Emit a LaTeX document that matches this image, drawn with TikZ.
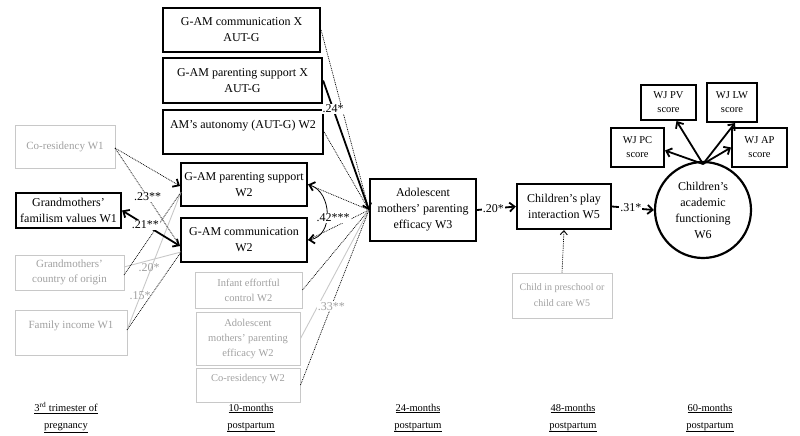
\documentclass[tikz,border=0pt]{standalone}
\usepackage{fontspec}
\setmainfont{Liberation Serif}
\usetikzlibrary{arrows.meta}
\definecolor{gline}{RGB}{200,200,200}
\definecolor{gtext}{RGB}{160,160,160}
\tikzset{
 bb/.style={draw=black, line width=2.2pt, align=center, inner sep=0pt, font=\fontsize{12}{16}\selectfont},
 gb/.style={draw=gline, line width=1pt, align=center, inner sep=0pt, text=gtext, font=\fontsize{11}{15}\selectfont},
 wj/.style={draw=black, line width=2pt, align=center, inner sep=0pt, font=\fontsize{10.5}{14}\selectfont},
 dl/.style={line width=0.7pt, dash pattern=on 0.9pt off 0.9pt},
 gl/.style={draw=gline, line width=0.9pt},
 thk/.style={line width=1.8pt},
 tipe/.style={-{Straight Barb[length=5pt,width=9pt,line width=1.8pt]}},
 tipb/.style={{Straight Barb[length=5pt,width=9pt,line width=1.8pt]}-{Straight Barb[length=5pt,width=9pt,line width=1.8pt]}},
 tipt/.style={-{Straight Barb[length=4pt,width=7pt,line width=0.9pt]}},
 lab/.style={fill=white, inner sep=1pt, font=\fontsize{12}{14}\selectfont},
 glab/.style={fill=white, inner sep=1pt, text=gtext, font=\fontsize{12}{14}\selectfont},
 tl/.style={align=center, inner sep=0pt, font=\fontsize{10.5}{17}\selectfont},
}
\begin{document}
\begin{tikzpicture}[x=1pt,y=-1pt]
\useasboundingbox (0,0) rectangle (800,436);
% column 2
\node[bb, minimum width=157pt, minimum height=44pt] (gxa) at (241.5,30) {G-AM communication X\\AUT-G};
\node[bb, minimum width=159pt, minimum height=45pt] (gpxa) at (242.5,80.5) {G-AM parenting support X\\AUT-G};
\node[bb, minimum width=160pt, minimum height=44pt] (aut) at (243,132) {AM’s autonomy (AUT-G) W2\\\mbox{}};
\node[bb, minimum width=126pt, minimum height=43pt] (gps) at (244,184.5) {G-AM parenting support\\W2};
\node[bb, minimum width=126pt, minimum height=44pt] (gcom) at (244,240) {G-AM communication\\W2};
\node[gb, minimum width=107pt, minimum height=36pt, font=\fontsize{10.5}{15}\selectfont] (inf) at (248.5,290) {Infant effortful\\control W2};
\node[gb, minimum width=104pt, minimum height=53pt, font=\fontsize{10.5}{15}\selectfont] (ame2) at (248,338.5) {Adolescent\\mothers’ parenting\\efficacy W2};
\node[gb, minimum width=104pt, minimum height=34pt, font=\fontsize{10.5}{14}\selectfont] (cor2) at (248,385) {Co-residency W2\\\mbox{}};
% column 1
\node[gb, minimum width=100pt, minimum height=43pt] (cor1) at (65,146.5) {Co-residency W1};
\node[bb, minimum width=105pt, minimum height=35pt] (fam) at (68.5,210.5) {Grandmothers’\\familism values W1};
\node[gb, minimum width=109pt, minimum height=35pt] (coo) at (69.5,272.5) {Grandmothers’\\country of origin};
\node[gb, minimum width=112pt, minimum height=45pt] (inc) at (71,332.5) {Family income W1\\\mbox{}};
% right part
\node[bb, minimum width=106pt, minimum height=62pt] (w3) at (423,210) {Adolescent\\mothers’ parenting\\efficacy W3};
\node[bb, minimum width=94pt, minimum height=45pt] (play) at (564,206.5) {Children’s play\\interaction W5};
\node[gb, minimum width=100pt, minimum height=45pt, font=\fontsize{10}{16}\selectfont] (pre) at (562,295.5) {Child in preschool or\\child care W5};
\node[draw=black, line width=2.2pt, circle, minimum size=96pt, inner sep=0pt, align=center, font=\fontsize{12}{16}\selectfont] (circ) at (703,210) {Children’s\\academic\\functioning\\W6};
\node[wj, minimum width=55pt, minimum height=35pt] (pv) at (668.5,102.5) {WJ PV\\score};
\node[wj, minimum width=50pt, minimum height=39pt] (lw) at (732,102.5) {WJ LW\\score};
\node[wj, minimum width=53pt, minimum height=39pt] (pc) at (637.5,147.5) {WJ PC\\score};
\node[wj, minimum width=55pt, minimum height=39pt] (ap) at (759.5,147.5) {WJ AP\\score};
% time labels
\node[tl] (t1) at (66,418) {\underline{3\textsuperscript{rd} trimester of}\\\underline{pregnancy}};
\node[tl] (t2) at (251,418) {\underline{10-months}\\\underline{postpartum}};
\node[tl] (t3) at (418,418) {\underline{24-months}\\\underline{postpartum}};
\node[tl] (t4) at (573,418) {\underline{48-months}\\\underline{postpartum}};
\node[tl] (t5) at (710,418) {\underline{60-months}\\\underline{postpartum}};
% coordinates
\coordinate (w3in) at (369,210);
\coordinate (cor1e) at (115,148);
\coordinate (gpsw) at (180,186);
\coordinate (gpsw2) at (181,192);
\coordinate (gcomw) at (180,246);
\coordinate (gcomw2) at (181,252);
\coordinate (cooe) at (124,275);
\coordinate (cooe2) at (124,267);
\coordinate (ince) at (127,330);
% left connectors
\draw[gl] (ince) -- (gpsw2);
\draw[gl] (cooe2) -- (gcomw2);
\draw[dl] (cooe) -- (gpsw2);
\draw[dl] (ince) -- (gcomw2);
\draw[dl, tipe] (cor1e) -- (gpsw);
\draw[dl] (cor1e) -- (gcomw) node[lab, pos=0.5] {.23**};
\draw[thk, tipb] (fam.east) -- (gcomw) node[lab, pos=0.4] {.21**};
\node[glab, fill=none] (l20) at (149,268) {.20*};
\node[glab, fill=none] (l15) at (140,296) {.15*};
% right connectors
\draw[dl] (gxa.east) -- (w3in);
\draw[dl] (aut.east) -- (w3in);
\draw[dl] (gps.east) -- (w3in);
\draw[dl] (gcom.east) -- (w3in);
\draw[dl] (inf.east) -- (w3in);
\draw[gl] (ame2.east) -- (w3in);
\draw[dl] (cor2.east) -- (w3in) node[glab, pos=0.45] {.33**};
\draw[thk, tipe] (gpxa.east) -- (w3in) node[lab, pos=0.22] {.24*};
\draw[line width=0.8pt, tipb] (gps.east) .. controls (332,192) and (334,236) .. (gcom.east);
\node[lab] (l42) at (333,218) {.42***};
% outcome chain
\draw[thk, tipe] (w3.east) -- (play.west) node[lab, pos=0.42] {.20*};
\draw[thk, tipe] (play.east) -- (circ.west) node[lab, pos=0.45] {.31*};
\draw[dl, tipt] (pre.north) -- (play.south);
\coordinate (ctop) at (703,164);
\draw[thk, tipe] (ctop) -- ([xshift=8pt]pv.south);
\draw[thk, tipe] (ctop) -- ([xshift=3pt]lw.south);
\draw[thk, tipe] (ctop) -- ([yshift=-3pt]pc.east);
\draw[thk, tipe] (ctop) -- (ap.west);
\end{tikzpicture}
\end{document}
